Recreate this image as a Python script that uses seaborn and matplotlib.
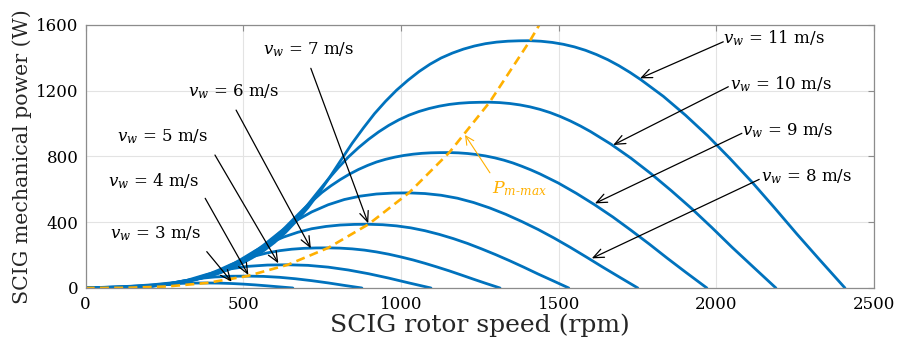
import numpy as np
import pandas as pd
import seaborn as sns
import matplotlib.pyplot as plt

# wind speeds (m/s) of the plotted power curves
wind_speeds = [3, 4, 5, 6, 7, 8, 9, 10, 11]

# rotor speed (rpm) / mechanical power (W)
rpm_v3 = [0, 77, 115, 154, 192, 231, 269, 307, 346, 384, 423, 461, 500, 538, 576, 615, 657]
pw_v3 = [0, 0.7, 1.8, 4.6, 9.9, 17.8, 24.4, 28.4, 30.1, 30.5, 29.7, 27.4, 23.6, 18.8, 13.0, 6.7, 0]

rpm_v4 = [0, 102, 154, 205, 256, 307, 359, 410, 461, 512, 564, 615, 666, 717, 769, 820, 876]
pw_v4 = [0, 1.6, 4.3, 10.8, 23.5, 42.3, 57.8, 67.2, 71.4, 72.3, 70.5, 65.0, 56.0, 44.5, 30.9, 15.8, 0]

rpm_v5 = [0, 128, 192, 256, 320, 384, 448, 512, 576, 641, 705, 769, 833, 897, 961, 1025, 1095]
pw_v5 = [0, 3.1, 8.5, 21.2, 45.9, 82.5, 112.9, 131.2, 139.4, 141.1, 137.6, 126.8, 109.4, 86.8, 60.2, 30.9, 0]

rpm_v6 = [0, 77, 115, 154, 192, 231, 269, 307, 346, 384, 423, 461, 500, 538, 576, 615, 653,
          692, 730, 769, 807, 845, 884, 922, 961, 999, 1038, 1076, 1114, 1153, 1191, 1230, 1268, 1314]
pw_v6 = [0, 1.7, 3.2, 5.4, 9.0, 14.6, 23.9, 36.6, 54.9, 79.3, 109.8, 142.7, 172.0, 195.1, 213.4, 226.8, 235.6,
         241.0, 243.4, 243.9, 242.2, 237.8, 230.2, 219.3, 205.4, 189.0, 170.5, 150.0, 127.8, 104.1, 79.3, 53.4, 28.8, 0]

rpm_v7 = [0, 90, 135, 179, 224, 269, 314, 359, 404, 448, 493, 538, 583, 628, 673, 717, 762,
          807, 852, 897, 942, 986, 1031, 1076, 1121, 1166, 1211, 1255, 1300, 1345, 1390, 1435, 1480, 1532]
pw_v7 = [0, 2.7, 5.0, 8.5, 14.3, 23.2, 37.9, 58.1, 87.1, 125.8, 174.2, 226.5, 273.0, 309.8, 338.8, 360.1, 374.0,
         382.6, 386.4, 387.2, 384.5, 377.5, 365.5, 348.1, 326.0, 300.1, 270.7, 238.1, 202.9, 165.3, 125.8, 84.8, 45.7, 0]

rpm_v8 = [0, 102, 154, 205, 256, 307, 359, 410, 461, 512, 564, 615, 666, 717, 769, 820, 871,
          922, 974, 1025, 1076, 1127, 1179, 1230, 1281, 1332, 1383, 1435, 1486, 1537, 1588, 1640, 1691, 1751]
pw_v8 = [0, 4.0, 7.5, 12.7, 21.4, 34.7, 56.6, 86.7, 130.1, 187.9, 260.1, 338.1, 407.5, 462.4, 505.8, 537.5, 558.3,
         571.1, 576.8, 578.0, 573.9, 563.6, 545.6, 519.6, 486.7, 448.0, 404.0, 355.5, 302.9, 246.8, 187.9, 126.6, 68.2, 0]

rpm_v9 = [0, 115, 173, 231, 288, 346, 375, 404, 432, 461, 490, 519, 548, 576, 605, 634, 663, 692,
          721, 749, 778, 807, 836, 865, 894, 922, 951, 980, 1009, 1038, 1066, 1095, 1124, 1153, 1182,
          1211, 1239, 1268, 1297, 1326, 1355, 1383, 1412, 1441, 1499, 1556, 1614, 1672, 1729, 1787,
          1845, 1902, 1970]
pw_v9 = [0, 5.8, 10.7, 18.1, 30.5, 49.4, 63.4, 80.7, 100.4, 123.5, 151.8, 185.2, 223.9, 267.5, 316.9, 370.4,
         426.3, 481.5, 532.9, 580.2, 621.4, 658.4, 691.3, 720.1, 744.8, 765.4, 781.9, 795.0, 805.4, 813.1, 818.3,
         821.4, 822.6, 823.0, 821.2, 817.2, 811.1, 802.4, 791.1, 776.9, 759.7, 739.9, 717.6, 693.0, 637.8,
         575.3, 506.1, 431.3, 351.4, 267.5, 180.2, 97.1, 0]

rpm_v10 = [0, 128, 192, 256, 320, 384, 416, 448, 480, 512, 544, 576, 608, 641, 673, 705, 737, 769,
           801, 833, 865, 897, 929, 961, 993, 1025, 1057, 1089, 1121, 1153, 1185, 1217, 1249, 1281, 1313,
           1345, 1377, 1409, 1441, 1473, 1505, 1537, 1569, 1601, 1665, 1729, 1793, 1857, 1922, 1986,
           2050, 2114, 2189]
pw_v10 = [0, 7.9, 14.7, 24.8, 41.8, 67.7, 86.9, 110.6, 137.7, 169.4, 208.3, 254.0, 307.1, 366.9, 434.7,
          508.1, 584.8, 660.5, 731.0, 795.9, 852.4, 903.2, 948.4, 987.9, 1021.7, 1050.0, 1072.6, 1090.6,
          1104.8, 1115.5, 1122.6, 1126.7, 1128.4, 1129.0, 1126.5, 1121.1, 1112.6, 1100.8, 1085.2, 1065.8,
          1042.2, 1015.0, 984.4, 950.6, 875.0, 789.2, 694.3, 591.6, 482.1, 366.9, 247.3, 133.2, 0]

rpm_v11 = [0, 141, 211, 282, 352, 423, 458, 493, 528, 564, 599, 634, 669, 705, 740, 775, 810, 845,
           881, 916, 951, 986, 1022, 1057, 1092, 1127, 1163, 1198, 1233, 1268, 1303, 1339, 1374, 1409,
           1444, 1480, 1515, 1550, 1585, 1620, 1656, 1691, 1726, 1761, 1832, 1902, 1973, 2043, 2114,
           2184, 2255, 2325, 2408]
pw_v11 = [0, 10.5, 19.5, 33.1, 55.6, 90.2, 115.7, 147.3, 183.3, 225.4, 277.2, 338.1, 408.7, 488.4, 578.5,
          676.2, 778.4, 879.1, 973.0, 1059.4, 1134.5, 1202.2, 1262.3, 1314.9, 1359.9, 1397.5, 1427.6,
          1451.6, 1470.5, 1484.7, 1494.1, 1499.7, 1502.0, 1502.7, 1499.4, 1492.2, 1480.9, 1465.1, 1444.4,
          1418.5, 1387.1, 1350.9, 1310.2, 1265.3, 1164.6, 1050.4, 924.2, 787.4, 641.7, 488.4, 329.1,
          177.3, 0]

# maximum power point track (through the peaks)
mpp_rpm = [0, 128, 256, 384, 512, 641, 769, 897, 1025, 1153, 1281, 1409, 1439]
mpp_power = [0, 1.1, 9.0, 30.5, 72.3, 141.1, 243.9, 387.2, 578.0, 823.0, 1129.0, 1502.7, 1600]

# annotation anchors: label (left, baseline), arrow start, arrow tip
label_pos = [(77, 302), (72, 621), (98, 889), (325, 1162), (563, 1420),
             (2142, 646), (2081, 930), (2044, 1207), (2022, 1487)]
arrow_start = [(384, 221), (379, 545), (410, 808), (477, 1081), (714, 1335),
               (2136, 660), (2081, 940), (2038, 1223), (2022, 1496)]
arrow_tip = [(463, 38), (516, 79), (611, 150), (714, 241), (896, 393),
             (1605, 180), (1615, 514), (1673, 869), (1758, 1274)]

curves = {3: (rpm_v3, pw_v3), 4: (rpm_v4, pw_v4), 5: (rpm_v5, pw_v5),
          6: (rpm_v6, pw_v6), 7: (rpm_v7, pw_v7), 8: (rpm_v8, pw_v8),
          9: (rpm_v9, pw_v9), 10: (rpm_v10, pw_v10), 11: (rpm_v11, pw_v11)}

df = pd.concat([pd.DataFrame({'rpm': r, 'power': p, 'vw': v})
                for v, (r, p) in curves.items()], ignore_index=True)

sns.set_style('whitegrid')
plt.rcParams['font.family'] = ['DejaVu Serif']
plt.rcParams['mathtext.fontset'] = 'dejavuserif'

blue = '#0072BD'
orange = '#FFB000'

fig, ax = plt.subplots(figsize=(9, 3.42), dpi=100)
fig.subplots_adjust(left=0.0952, right=0.9711, top=0.9278, bottom=0.1579)

sns.lineplot(data=df, x='rpm', y='power', units='vw', estimator=None, sort=False,
             color=blue, lw=2.0, ax=ax)
sns.lineplot(x=mpp_rpm, y=mpp_power, estimator=None, sort=False,
             color=orange, lw=1.9, ax=ax)
ax.lines[-1].set_dashes((3.4, 2.0))

for v, lp, s, t in zip(wind_speeds, label_pos, arrow_start, arrow_tip):
    ax.annotate('', xy=t, xytext=s,
                arrowprops=dict(arrowstyle='->,head_length=0.75,head_width=0.32',
                                color='black', lw=0.9, shrinkA=0, shrinkB=0))
    ax.text(lp[0], lp[1], r'$v_w$' + f' = {v} m/s', fontsize=12,
            ha='left', va='baseline', color='black')

ax.annotate('', xy=(1203, 930), xytext=(1282, 700),
            arrowprops=dict(arrowstyle='->,head_length=0.6,head_width=0.3',
                            color=orange, lw=0.8, shrinkA=0, shrinkB=0))
ax.text(1287, 577, r'$P_{m\text{-}max}$', fontsize=12.5, color=orange,
        ha='left', va='baseline')

ax.set_xlim(0, 2500)
ax.set_ylim(0, 1600)
ax.set_xticks([0, 500, 1000, 1500, 2000, 2500])
ax.set_yticks([0, 400, 800, 1200, 1600])
ax.set_xlabel('SCIG rotor speed (rpm)', fontsize=18, labelpad=0)
ax.set_ylabel('SCIG mechanical power (W)', fontsize=14.8, labelpad=3)

ax.grid(True, color='#e3e3e3', lw=0.8)
for sp in ax.spines.values():
    sp.set_color('#8c8c8c')
    sp.set_linewidth(0.9)
ax.tick_params(direction='in', length=4, width=0.8, color='#8c8c8c',
               labelsize=12, labelcolor='black', top=True, right=True)
ax.tick_params(axis='x', pad=6)
ax.tick_params(axis='y', pad=5)

fig.savefig('out.png', dpi=100)
